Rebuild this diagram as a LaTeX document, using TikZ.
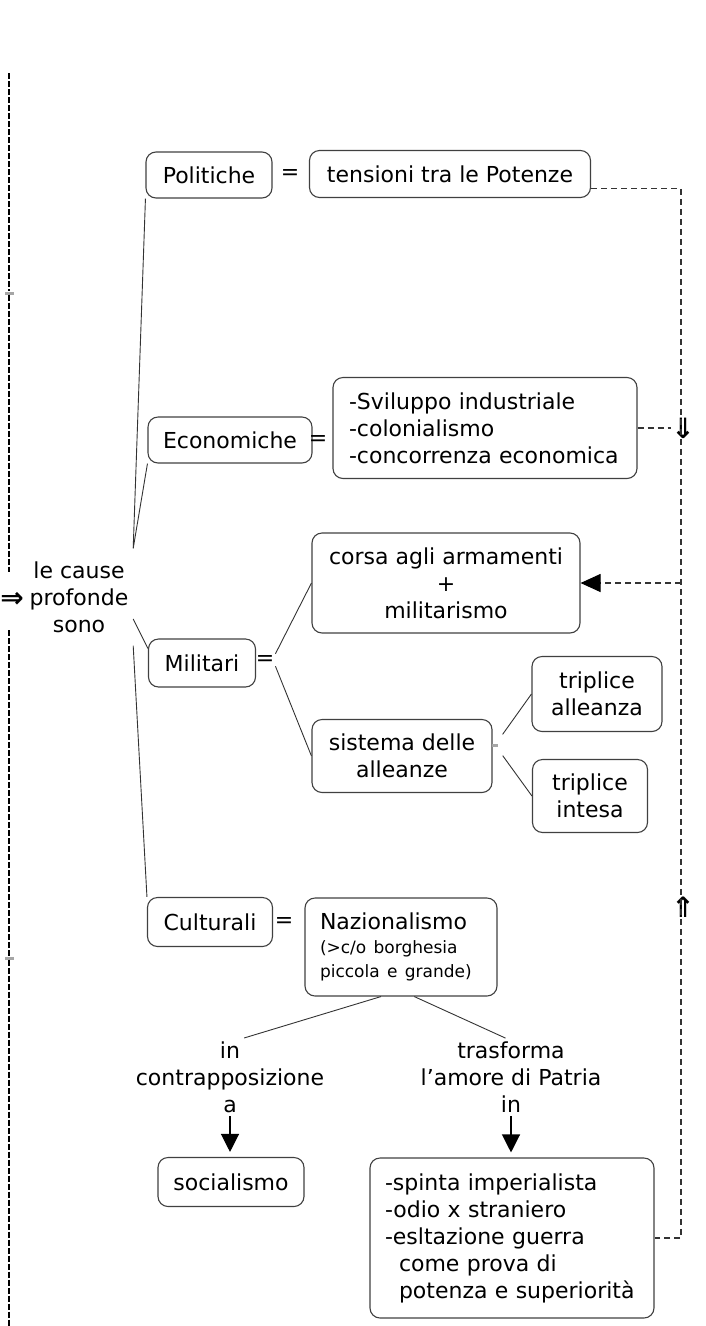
\documentclass[tikz,border=0pt]{standalone}
\usepackage{fontspec}
\setmainfont{DejaVu Sans}
\usetikzlibrary{arrows.meta}
\begin{document}
\begin{tikzpicture}[x=1pt,y=-1pt,
  font=\fontsize{22}{27}\selectfont,
  box/.style={draw=black!75, line width=1.1pt, rounded corners=10pt, inner xsep=15pt, inner ysep=4pt, align=center},
  link/.style={draw=black!80, line width=0.9pt},
  eq/.style={inner sep=1pt},
  glyph/.style={inner sep=0pt, font=\fontsize{28}{28}\selectfont\bfseries},
  tick/.style={fill=black!35, minimum width=9pt, minimum height=3pt, inner sep=0pt},
  tip/.style={-{Triangle[width=18pt,length=18pt]}, line width=1.2pt},
  rdash/.style={draw=black!80, line width=1.1pt, dash pattern=on 6pt off 4pt},
  ldash/.style={line width=1.4pt, dash pattern=on 6pt off 2pt}]
\useasboundingbox (0,0) rectangle (705,1326);

\node[minimum width=108pt, minimum height=97pt, inner sep=0pt, align=center] (root) at (79,597) {le cause\\profonde\\sono};
\node[glyph] (rarr) at (12,600) {⇒};

\node[box, minimum width=126pt, minimum height=46pt] (pol) at (209,175) {Politiche};
\node[eq] (eqpol) at (290,174) {=};
\node[box, minimum width=281pt, minimum height=47pt] (tens) at (450,174) {tensioni tra le Potenze};

\node[box, minimum width=163pt, minimum height=46pt] (eco) at (230,440) {Economiche};
\node[eq] (eqeco) at (318,440) {=};
\node[box, text width=272pt, inner xsep=16pt, align=left, minimum height=101pt] (ecolist) at (485,428) {-Sviluppo industriale\\-colonialismo\\-concorrenza economica};

\node[box, minimum width=107pt, minimum height=48pt] (mil) at (202,663) {Militari};
\node[eq] (eqmil) at (265,660) {=};
\node[box, minimum width=268pt, minimum height=100pt] (corsa) at (446,583) {corsa agli armamenti\\+\\militarismo};
\node[box, minimum width=180pt, minimum height=73pt] (sist) at (402,756) {sistema delle\\alleanze};
\node[fill=black!35, minimum width=6pt, minimum height=3pt, inner sep=0pt] (junc) at (495,745) {};
\node[box, minimum width=130pt, minimum height=75pt] (all) at (597,694) {triplice\\alleanza};
\node[box, minimum width=115pt, minimum height=73pt] (int) at (590,796) {triplice\\intesa};

\node[box, minimum width=125pt, minimum height=49pt] (cul) at (210,922) {Culturali};
\node[eq] (eqcul) at (284,922) {=};
\node[box, text width=162pt, align=left, minimum height=98pt] (naz) at (401,947) {Nazionalismo\par{\fontsize{17}{24}\selectfont (>c/o borghesia\\piccola e grande)\par}};

\node[align=center] (contr) at (230,1077) {in\\contrapposizione\\a};
\node[align=center] (trasf) at (511,1077) {trasforma\\l'amore di Patria\\in};
\node[box, minimum width=146pt, minimum height=49pt] (soc) at (231,1182) {socialismo};
\node[box, text width=254pt, align=left, minimum height=160pt] (big) at (512,1238) {-spinta imperialista\\-odio x straniero\\-esltazione guerra\\\hspace*{14pt}come prova di\\\hspace*{14pt}potenza e superiorità};

\node[glyph] (dnarr) at (683,428) {⇓};
\node[glyph] (uparr) at (683,907) {⇑};

% left incoming line
\coordinate (ltop) at (9,73);
\coordinate (lgap1) at (9,572);
\coordinate (lgap2) at (9,630);
\coordinate (lbot) at (9,1326);
\node[tick] (tick1) at (9,293) {};
\node[tick] (tick2) at (9,958) {};
\draw[ldash] (ltop) -- (tick1.north);
\draw[ldash] (tick1.south) -- (lgap1);
\draw[ldash] (lgap2) -- (tick2.north);
\draw[ldash] (tick2.south) -- (lbot);

% tree
\draw[link] (root.north east) -- (pol.south west);
\draw[link] (root.north east) -- (eco.south west);
\draw[link] (root.-22) -- (mil.165);
\draw[link] (root.south east) -- (cul.north west);
\draw[link] (eqmil.north east) -- (corsa.west);
\draw[link] (eqmil.south east) -- (sist.west);
\draw[link, shorten <=11pt] (junc) -- (all.west);
\draw[link, shorten <=11pt] (junc) -- (int.west);
\draw[link] (naz.248) -- (contr.70);
\draw[link] (naz.285) -- (trasf.98);
\draw[tip, shorten >=5pt] (contr.south) -- (contr.south |- soc.north);
\draw[tip, shorten >=5pt] (trasf.south) -- (trasf.south |- big.north);

% right feedback line
\coordinate (rbot) at (681,1238);
\coordinate (rmid) at (681,583);
\draw[rdash] (tens.-6) -| (rbot) -- (big.east);
\draw[rdash] (ecolist.east) -- (dnarr.west);
\draw[rdash, -{Triangle[width=18pt,length=20pt,black]}] (rmid) -- (corsa.east);
\end{tikzpicture}
\end{document}
